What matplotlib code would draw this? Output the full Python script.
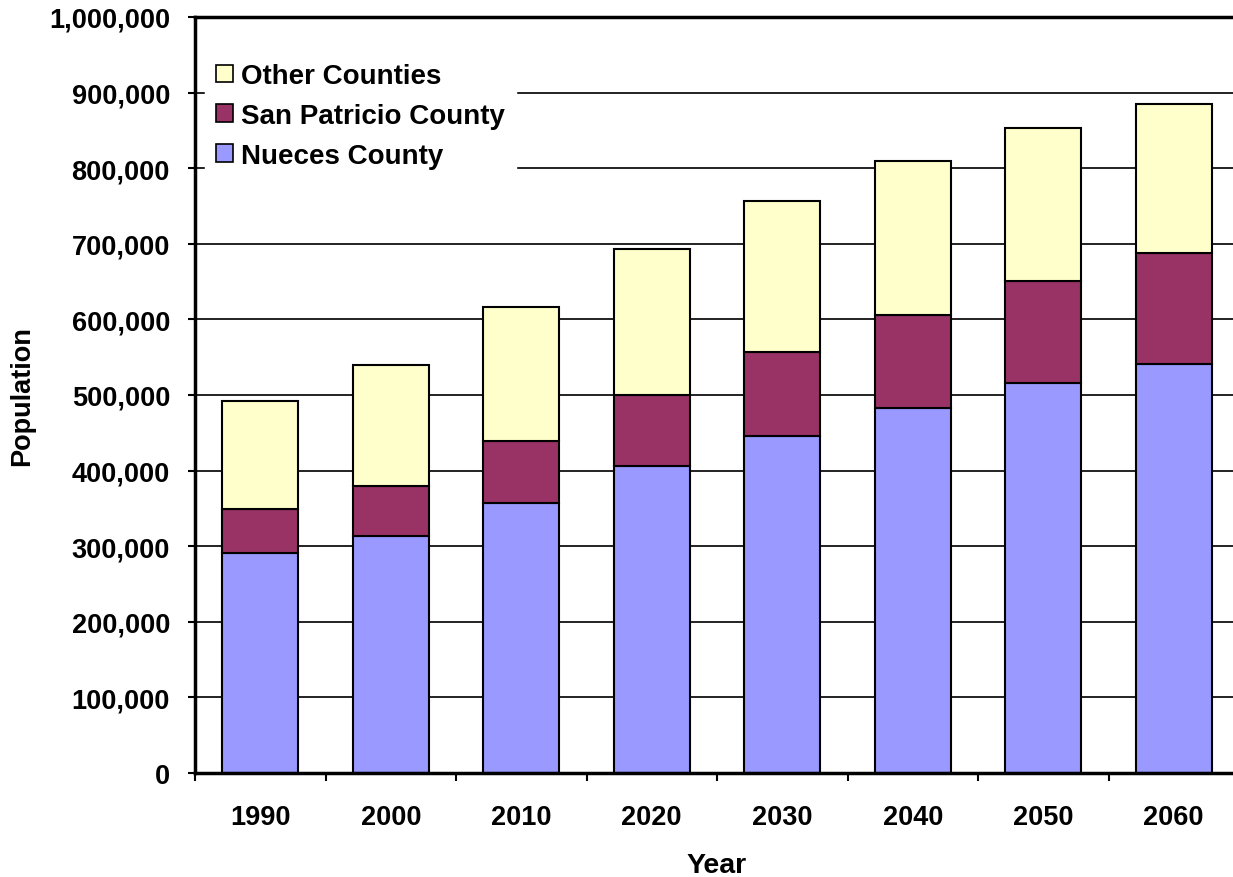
import matplotlib
matplotlib.use("Agg")
import matplotlib.pyplot as plt
import numpy as np
from matplotlib.ticker import FuncFormatter, FixedLocator

years = ["1990", "2000", "2010", "2020", "2030", "2040", "2050", "2060"]
nueces = [291000, 313000, 357000, 406000, 446000, 483000, 516000, 541000]
san_patricio = [58000, 67000, 82000, 94000, 111000, 123000, 135000, 147000]
other = [143000, 160000, 177000, 193000, 200000, 204000, 202000, 197000]

c_nueces = "#9999FF"
c_sp = "#993366"
c_other = "#FFFFCC"

plt.rcParams['font.family'] = ['Liberation Sans', 'DejaVu Sans']
plt.rcParams['font.weight'] = 'bold'

fig = plt.figure(figsize=(12.33, 8.78), dpi=100)
ax = fig.add_axes([195/1233, 1-774/878, 1044/1233, 756/878])

x = np.arange(len(years))
w = 0.58
b1 = ax.bar(x, nueces, w, color=c_nueces, edgecolor="black", linewidth=1.5, zorder=3, label="Nueces County")
b2 = ax.bar(x, san_patricio, w, bottom=nueces, color=c_sp, edgecolor="black", linewidth=1.5, zorder=3, label="San Patricio County")
bottom3 = np.array(nueces) + np.array(san_patricio)
b3 = ax.bar(x, other, w, bottom=bottom3, color=c_other, edgecolor="black", linewidth=1.5, zorder=3, label="Other Counties")

ax.set_xlim(-0.5, len(years) - 0.5)
ax.set_ylim(0, 1000000)
ax.set_yticks(np.arange(0, 1000001, 100000))
ax.yaxis.set_major_formatter(FuncFormatter(lambda v, p: f"{int(v):,}"))
ax.yaxis.grid(True, color="#111111", linewidth=1.3, zorder=0)
ax.set_axisbelow(True)

ax.set_xticks(x)
ax.set_xticklabels(years)
ax.xaxis.set_minor_locator(FixedLocator(np.arange(-0.5, len(years), 1.0)))
ax.tick_params(axis="x", which="major", length=0, pad=22, labelsize=19.5)
ax.tick_params(axis="x", which="minor", length=6, width=1.5, direction="out")
ax.tick_params(axis="y", which="major", length=5, width=1.5, direction="out", pad=13, labelsize=19.5)

for s in ["left", "bottom", "top"]:
    ax.spines[s].set_linewidth(2.5)
    ax.spines[s].set_color("black")
    ax.spines[s].set_zorder(6)
ax.spines["right"].set_visible(False)

ax.set_xlabel("Year", fontsize=20.5, fontweight="bold", labelpad=16)
ax.yaxis.set_label_coords(-160/1044, 0.5)
ax.set_ylabel("Population", fontsize=19.5, fontweight="bold")

handles = [b3, b2, b1]
leg = ax.legend(handles=handles, labels=[h.get_label() for h in handles],
                loc="upper left", bbox_to_anchor=(10/1044, 1-35/756),
                fontsize=20, frameon=True, fancybox=False, framealpha=1,
                facecolor="white", edgecolor="white",
                handlelength=0.6, handleheight=0.6, handletextpad=0.3,
                labelspacing=0.5, borderpad=0.4, borderaxespad=0)
leg.set_zorder(5)
for p in leg.get_patches():
    p.set_linewidth(1.2)

fig.savefig("out.png", dpi=100)
